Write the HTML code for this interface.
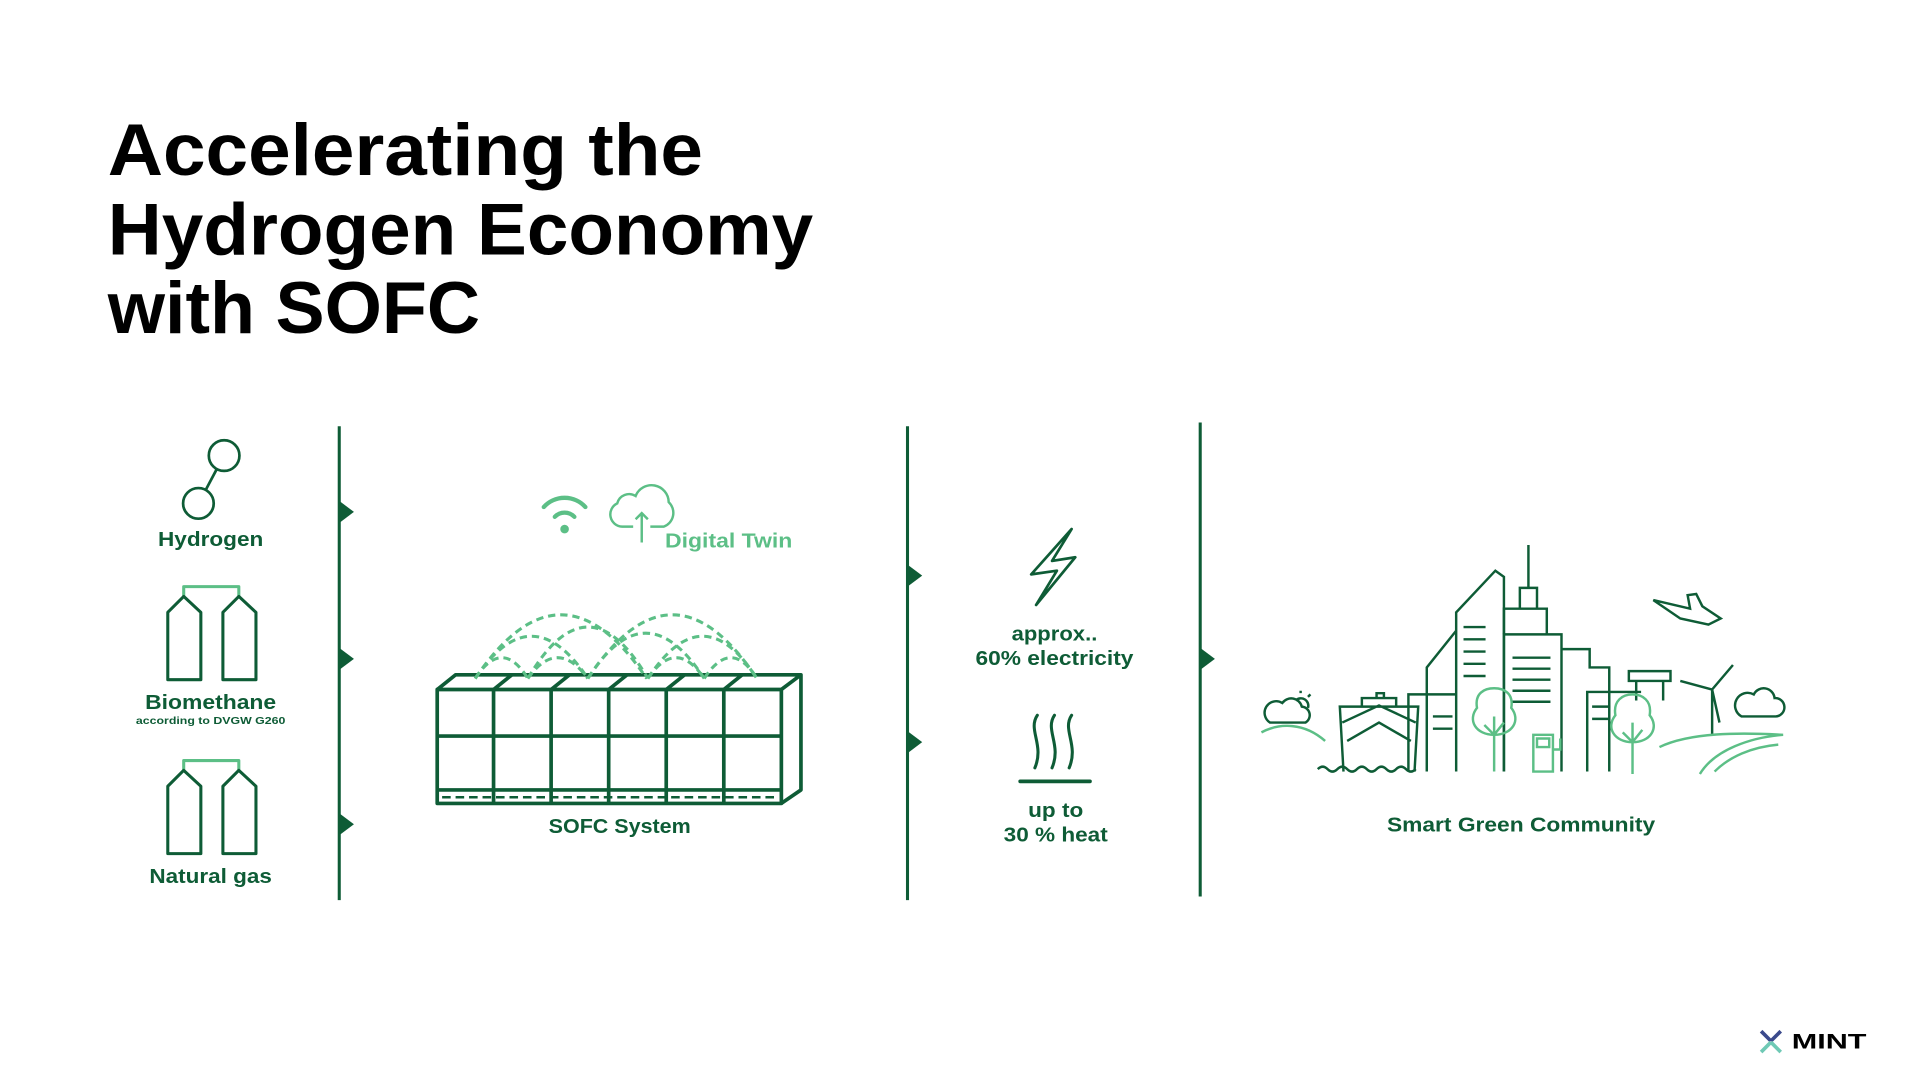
<!DOCTYPE html>
<html><head><meta charset="utf-8"><style>
html,body{margin:0;padding:0;background:#fff;}
svg{display:block}
text{font-family:"Liberation Sans",sans-serif;font-weight:bold;}
</style></head><body>
<svg width="1920" height="1080" viewBox="0 0 1920 1080" xmlns="http://www.w3.org/2000/svg">
<g transform="scale(1.2247)">
<!-- title -->
<g fill="#000" font-size="60">
<text x="88" y="143" textLength="486" lengthAdjust="spacingAndGlyphs">Accelerating the</text>
<text x="88" y="208" textLength="576" lengthAdjust="spacingAndGlyphs">Hydrogen Economy</text>
<text x="88" y="272" textLength="304" lengthAdjust="spacingAndGlyphs">with SOFC</text>
</g>
<!-- vertical lines -->
<g stroke="#0e5c36" stroke-width="2.5">
<line x1="277" y1="348" x2="277" y2="735"/>
<line x1="741" y1="348" x2="741" y2="735"/>
<line x1="980" y1="345" x2="980" y2="732"/>
</g>
<g fill="#0e5c36">
<polygon points="277,409 289,418 277,427"/>
<polygon points="277,529 289,538 277,547"/>
<polygon points="277,664 289,673 277,682"/>
<polygon points="741,461 753,470 741,479"/>
<polygon points="741,597 753,606 741,615"/>
<polygon points="980,529 992,538 980,547"/>
</g>
<!-- hydrogen -->
<g fill="none" stroke="#0e5c36" stroke-width="2.2">
<circle cx="183" cy="372" r="12.5"/>
<circle cx="162" cy="411" r="12.5"/>
<line x1="177" y1="383" x2="168" y2="400"/>
</g>
<!-- tanks -->
<g fill="none" stroke-width="2.5" stroke-linejoin="round">
<path d="M150,487 V479 H195 V487" stroke="#5cbf86"/>
<path d="M137,555 V500 L150,487 L164,500 V555 Z M182,555 V500 L195,487 L209,500 V555 Z" stroke="#0e5c36"/>
<path d="M150,629 V621 H195 V629" stroke="#5cbf86"/>
<path d="M137,697 V642 L150,629 L164,642 V697 Z M182,697 V642 L195,629 L209,642 V697 Z" stroke="#0e5c36"/>
</g>
<g fill="#0e5c36" text-anchor="middle" font-size="16.5">
<text x="172" y="446" textLength="86" lengthAdjust="spacingAndGlyphs">Hydrogen</text>
<text x="172" y="579" textLength="107" lengthAdjust="spacingAndGlyphs">Biomethane</text>
<text x="172" y="591" font-size="8.5" font-weight="normal" textLength="122" lengthAdjust="spacingAndGlyphs">according to DVGW G260</text>
<text x="172" y="721" textLength="100" lengthAdjust="spacingAndGlyphs">Natural gas</text>
<text x="506" y="680" textLength="116" lengthAdjust="spacingAndGlyphs">SOFC System</text>
<text x="861" y="523" textLength="70" lengthAdjust="spacingAndGlyphs">approx..</text>
<text x="861" y="543" textLength="129" lengthAdjust="spacingAndGlyphs">60% electricity</text>
<text x="862" y="667" textLength="45" lengthAdjust="spacingAndGlyphs">up to</text>
<text x="862" y="687" textLength="85" lengthAdjust="spacingAndGlyphs">30 % heat</text>
<text x="1242" y="679" textLength="219" lengthAdjust="spacingAndGlyphs">Smart Green Community</text>
</g>
<!-- wifi + cloud -->
<g fill="none" stroke="#5cbf86" stroke-width="3.5" stroke-linecap="round">
<path d="M453,422 A11,11 0 0 1 469,422"/>
<path d="M444,414 A23,23 0 0 1 478,414"/>
</g>
<circle cx="461" cy="432" r="3.5" fill="#5cbf86"/>
<g fill="none" stroke="#5cbf86" stroke-width="2">
<path d="M517,430 H508 A10,10 0 0 1 504,411 A10,10 0 0 1 519,405 A14,14 0 0 1 546,410 A12,12 0 0 1 542,430 H531"/>
<path d="M524,443 V419 M519,424 L524,419 L529,424"/>
</g>
<text x="543" y="447" font-size="16.5" fill="#5cbf86" textLength="104" lengthAdjust="spacingAndGlyphs">Digital Twin</text>
<!-- SOFC box -->
<g fill="none" stroke="#0e5c36" stroke-width="3" stroke-linejoin="round">
<rect x="357" y="563" width="281" height="93"/>
<path d="M357,563 L372,551 H654 L638,563 M654,551 V645 L638,656"/>
<path d="M403,563 V656 M450,563 V656 M497,563 V656 M544,563 V656 M591,563 V656"/>
<path d="M403,563 L418,551 M450,563 L465,551 M497,563 L512,551 M544,563 L559,551 M591,563 L606,551"/>
<line x1="357" y1="601" x2="638" y2="601"/>
<line x1="357" y1="645" x2="638" y2="645"/>
<line x1="361" y1="651" x2="636" y2="651" stroke-width="2" stroke-dasharray="7,4"/>
</g>
<g fill="none" stroke="#5cbf86" stroke-width="2.5" stroke-dasharray="6,4">
<path d="M388,554 Q458,450 528,554"/>
<path d="M480,554 Q549,450 618,554"/>
<path d="M431,554 Q480,470 529,554"/>
<path d="M388,554 Q434,485 480,554"/>
<path d="M529,554 Q574,485 618,554"/>
<path d="M480,554 Q527,480 575,554"/>
<path d="M388,554 Q410,520 431,554"/>
<path d="M431,554 Q455,520 480,554"/>
<path d="M529,554 Q552,520 575,554"/>
<path d="M575,554 Q597,520 618,554"/>
</g>
<!-- lightning -->
<path d="M875,432 L842,469 L863,466 L846,494 L878,455 L859,458 Z" fill="none" stroke="#0e5c36" stroke-width="2.2" stroke-linejoin="round"/>
<!-- heat -->
<g fill="none" stroke="#0e5c36" stroke-width="2.5" stroke-linecap="round">
<path d="M847,584 C839,596 853,608 845,627"/>
<path d="M861,584 C853,596 867,608 859,627"/>
<path d="M875,584 C867,596 881,608 873,627"/>
<line x1="833" y1="638" x2="890" y2="638" stroke-width="3"/>
</g>
<!-- city -->
<g fill="none" stroke="#0e5c36" stroke-width="2">
<path d="M1189,630 V500 L1221,466 L1228,471 V630"/>
<path d="M1165,630 V545 L1189,515"/>
<path d="M1248,445 V480 M1241,497 V480 H1255 V497 M1228,518 V497 H1263 V518"/>
<path d="M1228,630 V518 H1275 V630"/>
<path d="M1275,530 H1298 V545 H1314 V630"/>
<path d="M1195,512 H1213 M1195,522 H1213 M1195,532 H1213 M1195,542 H1213 M1195,552 H1213"/>
<path d="M1235,537 H1266 M1235,546 H1266 M1235,555 H1266 M1235,564 H1266 M1235,573 H1266"/>
<path d="M1150,630 V567 H1189 M1170,585 H1186 M1170,595 H1186"/>
<path d="M1296,630 V565 H1340 M1300,577 H1315 M1300,587 H1315"/>
<path d="M1330,548 H1364 V556 H1330 Z M1336,556 V572 M1358,556 V572"/>
<path d="M1097,630 L1094,577 H1158 L1155,630 M1096,590 L1126,576 L1156,590 M1100,605 L1126,590 L1152,605 M1112,577 V570 H1140 V577 M1124,570 V566 H1130 V570"/>
<path d="M1076,628 q4,-4 8,0 q4,4 8,0 q4,-4 8,0 q4,4 8,0 q4,-4 8,0 q4,4 8,0 q4,-4 8,0 q4,4 8,0 q4,-4 8,0 q4,4 8,0"/>
<path d="M1398,600 V563 M1398,563 L1415,543 M1398,563 L1372,556 M1398,563 L1404,590"/>
<path d="M1350,490 L1372,505 L1395,510 L1405,505 L1390,495 L1385,485 L1378,486 L1380,497 Z"/>
<path d="M1037,590 H1066 A7,7 0 0 0 1063,577 A9,9 0 0 0 1047,574 A8,8 0 0 0 1037,590 Z"/>
<path d="M1058,572 A6,6 0 0 1 1068,578 M1062,566 V564 M1068,569 L1070,567"/>
<path d="M1422,585 H1450 A7,7 0 0 0 1449,570 A9,9 0 0 0 1432,567 A8,8 0 0 0 1422,585 Z"/>
</g>
<g fill="none" stroke="#5cbf86" stroke-width="2">
<path d="M1220,630 V585 M1212,592 L1220,600 L1228,590"/>
<path d="M1220,600 C1205,600 1198,588 1206,578 C1204,566 1212,562 1220,562 C1228,562 1236,566 1234,578 C1242,588 1235,600 1220,600 Z"/>
<path d="M1333,632 V590 M1325,598 L1333,606 L1341,596"/>
<path d="M1333,606 C1318,606 1311,594 1319,584 C1317,572 1325,567 1333,567 C1341,567 1349,572 1347,584 C1355,594 1348,606 1333,606 Z"/>
<path d="M1252,630 V600 H1268 V630 Z M1255,603 H1265 V610 H1255 Z M1268,612 H1274 V603"/>
<path d="M1030,598 C1045,590 1065,590 1082,605"/>
<path d="M1355,610 C1380,598 1420,598 1456,600 M1388,632 C1400,612 1430,602 1456,600 M1400,630 C1412,618 1430,610 1452,608"/>
</g>
<!-- logo -->
<g stroke-width="3">
<path d="M1438,842 L1446,850 M1454,842 L1446,850" stroke="#3b4a8c"/>
<path d="M1438,859 L1446,851 M1454,859 L1446,851" stroke="#6fc9b5"/>
</g>
<text x="1463" y="856" font-size="17" font-weight="900" fill="#000" textLength="61" lengthAdjust="spacingAndGlyphs">MINT</text>
</g>
</svg>
</body></html>
